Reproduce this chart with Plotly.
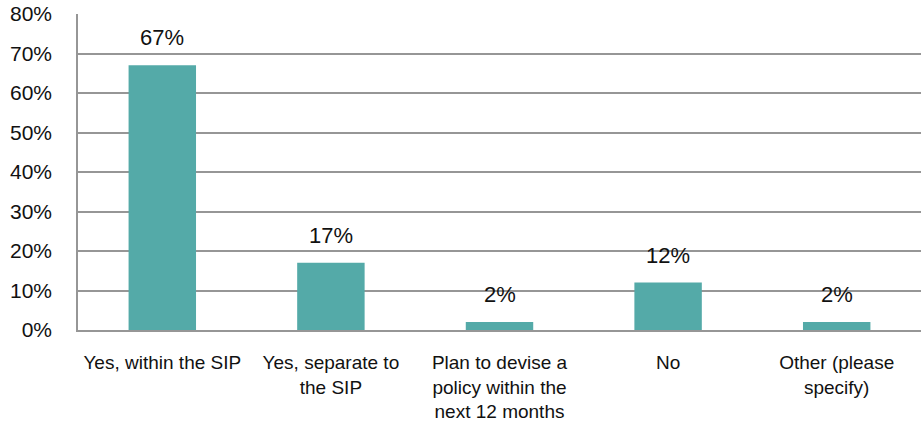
import plotly.graph_objects as go

# Survey responses: share of respondents per answer (percent)
categories = [
    "Yes, within the SIP",
    "Yes, separate to<br>the SIP",
    "Plan to devise a<br>policy within the<br>next 12 months",
    "No",
    "Other (please<br>specify)",
]
values = [67, 17, 2, 12, 2]

y_ticks = [0, 10, 20, 30, 40, 50, 60, 70, 80]

BAR_COLOR = "#54AAA8"
GRID_COLOR = "#969696"
TEXT_COLOR = "#111111"
FONT = "Liberation Sans, Arial, sans-serif"

fig = go.Figure()
fig.add_trace(
    go.Bar(
        x=categories,
        y=values,
        marker=dict(color=BAR_COLOR, line=dict(width=0)),
        width=0.4,
        hoverinfo="skip",
    )
)

# Value labels above each bar
for cat, val in zip(categories, values):
    fig.add_annotation(
        x=cat,
        y=val,
        text=f"{val:.0f}%",
        showarrow=False,
        yanchor="bottom",
        yshift=13,
        font=dict(family=FONT, size=22, color=TEXT_COLOR),
    )

fig.update_layout(
    width=922,
    height=423,
    margin=dict(l=78, r=1, t=14, b=93),
    paper_bgcolor="white",
    plot_bgcolor="white",
    showlegend=False,
    font=dict(family=FONT, color=TEXT_COLOR),
    bargap=0.6,
)

fig.update_xaxes(
    showgrid=False,
    showline=True,
    linecolor=GRID_COLOR,
    linewidth=2,
    ticks="",
    ticklabelstandoff=14,
    tickfont=dict(family=FONT, size=19, color=TEXT_COLOR),
    fixedrange=True,
)

fig.update_yaxes(
    range=[0, 80],
    tickvals=y_ticks,
    ticktext=[f"{t}%" for t in y_ticks],
    showgrid=True,
    gridcolor=GRID_COLOR,
    gridwidth=1.5,
    showline=True,
    linecolor=GRID_COLOR,
    linewidth=1.5,
    zeroline=False,
    ticks="",
    ticklabelstandoff=20,
    tickfont=dict(family=FONT, size=21, color=TEXT_COLOR),
    fixedrange=True,
)

fig.write_html("out.html", config={"displayModeBar": False})
